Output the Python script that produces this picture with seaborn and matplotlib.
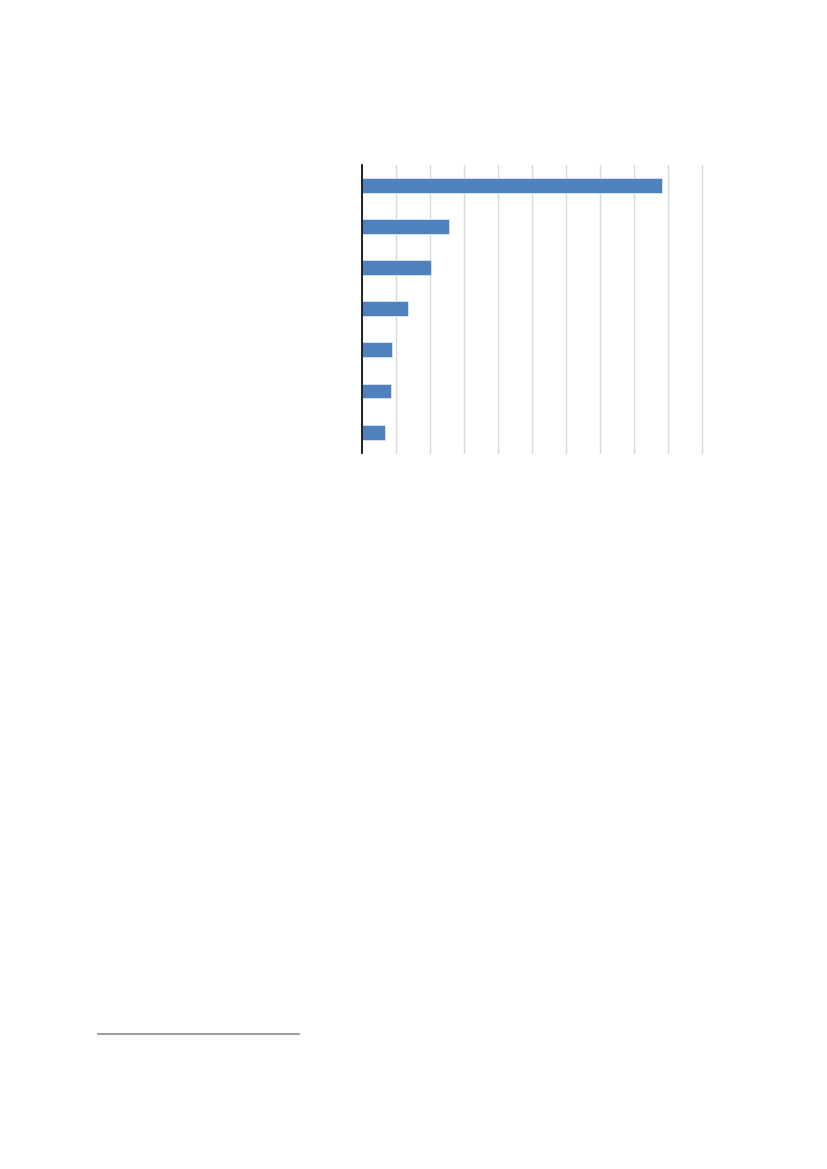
import matplotlib
matplotlib.use("Agg")
import matplotlib.pyplot as plt
from matplotlib.lines import Line2D
import seaborn as sns
import pandas as pd

categories = ["c1", "c2", "c3", "c4", "c5", "c6", "c7"]
values = [8.81, 2.55, 2.02, 1.34, 0.87, 0.84, 0.69]
x_ticks = [0, 1, 2, 3, 4, 5, 6, 7, 8, 9, 10]

df = pd.DataFrame({"category": categories, "value": values})

sns.set_theme(style="white")
fig = plt.figure(figsize=(8.27, 11.69), dpi=100)
ax = fig.add_axes([0.4377, 0.6127, 0.4111, 0.2464])

sns.barplot(data=df, x="value", y="category", orient="h", order=categories,
            color="#4f81bd", saturation=1, width=0.36, ax=ax,
            edgecolor="#dce6f2", linewidth=0.6)

ax.set_xlim(0, 10)
ax.set_ylim(6.5, -0.5)
ax.set_xticks(x_ticks)
ax.xaxis.grid(True, color="#d9d9d9", linewidth=1.0)
ax.yaxis.grid(False)
ax.set_axisbelow(True)
ax.tick_params(left=False, bottom=False, labelleft=False, labelbottom=False)
ax.set_xlabel("")
ax.set_ylabel("")
for s in ["top", "right", "bottom"]:
    ax.spines[s].set_visible(False)
ax.spines["left"].set_color("black")
ax.spines["left"].set_linewidth(1.2)
for gl in ax.get_xgridlines():
    gl.set_clip_on(False)

fig.add_artist(Line2D([98.3 / 827, 298.7 / 827], [1 - 1034 / 1169, 1 - 1034 / 1169],
                      transform=fig.transFigure, color="#a0a0a0", linewidth=1.5))

fig.savefig("out.png", dpi=100, facecolor="white")
